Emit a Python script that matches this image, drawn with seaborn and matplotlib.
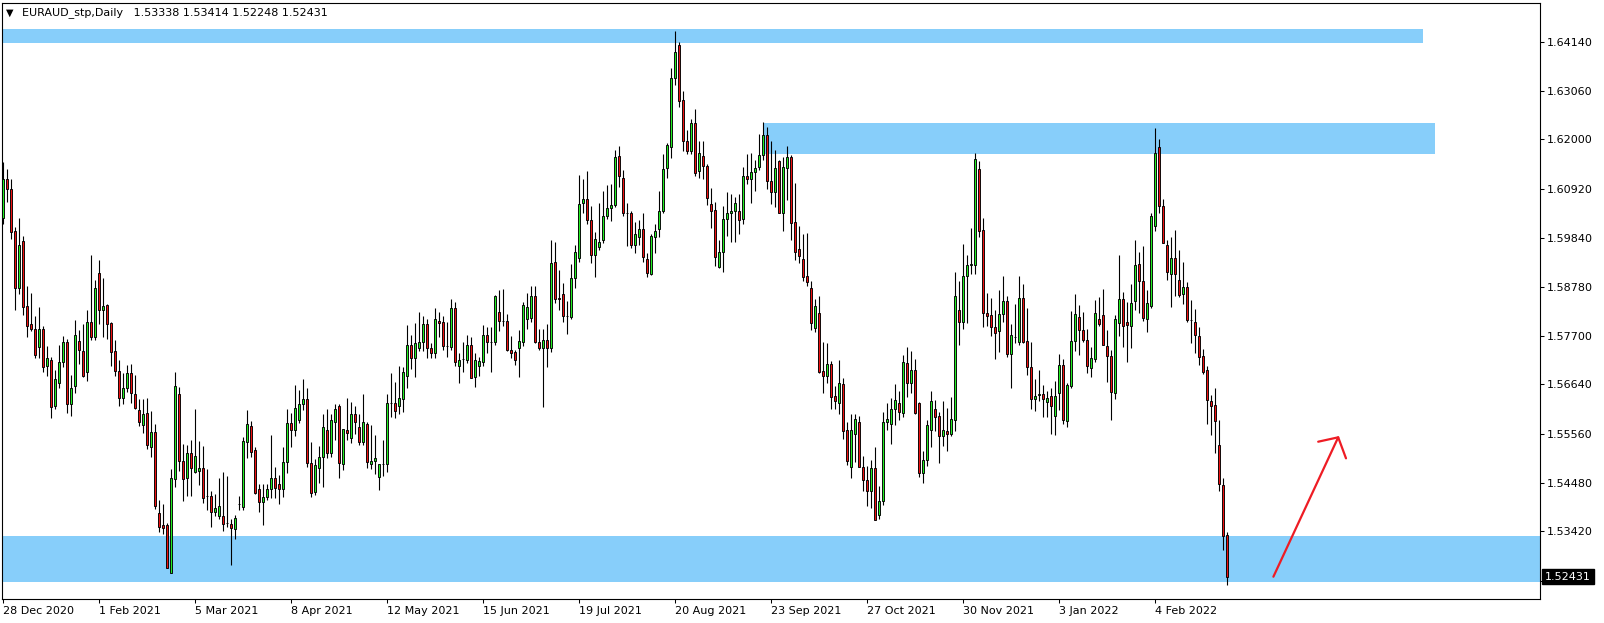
import numpy as np
import matplotlib
matplotlib.use("Agg")
import matplotlib.pyplot as plt
import matplotlib.transforms as mtransforms
import seaborn as sns

# EURAUD daily candles, 28 Dec 2020 .. Feb 2022
opens = [
    1.6029, 1.6113, 1.6091, 1.6000, 1.5875, 1.5978, 1.5835, 1.5796, 1.5786, 1.5746,
    1.5786, 1.5705, 1.5718, 1.5617, 1.5668, 1.5712, 1.5756, 1.5622, 1.5661, 1.5759,
    1.5737, 1.5690, 1.5800, 1.5767, 1.5907, 1.5827, 1.5837, 1.5799, 1.5737, 1.5693,
    1.5635, 1.5657, 1.5688, 1.5642, 1.5608, 1.5576, 1.5602, 1.5527, 1.5560, 1.5383,
    1.5356, 1.5356, 1.5252, 1.5456, 1.5642, 1.5496, 1.5458, 1.5513, 1.5472, 1.5475,
    1.5480, 1.5419, 1.5420, 1.5385, 1.5375, 1.5375, 1.5361, 1.5359, 1.5348, 1.5402,
    1.5396, 1.5538, 1.5573, 1.5520, 1.5434, 1.5406, 1.5418, 1.5434, 1.5458, 1.5445,
    1.5434, 1.5494, 1.5580, 1.5565, 1.5587, 1.5622, 1.5631, 1.5491, 1.5428, 1.5480,
    1.5505, 1.5564, 1.5514, 1.5582, 1.5616, 1.5489, 1.5564, 1.5546, 1.5598, 1.5570,
    1.5538, 1.5578, 1.5489, 1.5497, 1.5462, 1.5489, 1.5489, 1.5624, 1.5624, 1.5617,
    1.5631, 1.5682, 1.5751, 1.5721, 1.5743, 1.5756, 1.5797, 1.5743, 1.5732, 1.5802,
    1.5800, 1.5747, 1.5746, 1.5832, 1.5704, 1.5719, 1.5718, 1.5751, 1.5679, 1.5704,
    1.5712, 1.5773, 1.5757, 1.5756, 1.5823, 1.5803, 1.5802, 1.5739, 1.5734, 1.5743,
    1.5756, 1.5807, 1.5810, 1.5857, 1.5756, 1.5744, 1.5762, 1.5743, 1.5932, 1.5854,
    1.5861, 1.5813, 1.5812, 1.5897, 1.5940, 1.6060, 1.6069, 1.6024, 1.5947, 1.5964,
    1.5980, 1.6033, 1.6049, 1.6056, 1.6164, 1.6116, 1.6038, 1.6038, 1.5970, 1.5987,
    1.6004, 1.5938, 1.5905, 1.5986, 1.6004, 1.6044, 1.6137, 1.6184, 1.6334, 1.6407,
    1.6286, 1.6197, 1.6175, 1.6237, 1.6132, 1.6164, 1.6142, 1.6058, 1.6045, 1.5920,
    1.5953, 1.6025, 1.6040, 1.6043, 1.6043, 1.6025, 1.6120, 1.6113, 1.6128, 1.6140,
    1.6165, 1.6210, 1.6109, 1.6086, 1.6153, 1.6040, 1.6137, 1.6162, 1.6020, 1.5961,
    1.5938, 1.5901, 1.5875, 1.5788, 1.5821, 1.5693, 1.5682, 1.5708, 1.5638, 1.5624,
    1.5665, 1.5563, 1.5483, 1.5556, 1.5582, 1.5483, 1.5454, 1.5431, 1.5480, 1.5379,
    1.5408, 1.5582, 1.5578, 1.5609, 1.5624, 1.5602, 1.5710, 1.5666, 1.5695, 1.5624,
    1.5469, 1.5499, 1.5565, 1.5610, 1.5594, 1.5550, 1.5562, 1.5556, 1.5586, 1.5827,
    1.5801, 1.5901, 1.5925, 1.5926, 1.6135, 1.6002, 1.5821, 1.5815, 1.5790, 1.5780,
    1.5819, 1.5846, 1.5730, 1.5768, 1.5757, 1.5854, 1.5759, 1.5701, 1.5632, 1.5640,
    1.5642, 1.5626, 1.5638, 1.5595, 1.5645, 1.5706, 1.5584, 1.5660, 1.5759, 1.5811,
    1.5783, 1.5761, 1.5699, 1.5719, 1.5808, 1.5815, 1.5748, 1.5726, 1.5645, 1.5799,
    1.5851, 1.5800, 1.5792, 1.5847, 1.5928, 1.5891, 1.5808, 1.5836, 1.6011, 1.6183,
    1.6055, 1.5969, 1.5906, 1.5941, 1.5893, 1.5861, 1.5876, 1.5804, 1.5801, 1.5770,
    1.5726, 1.5696, 1.5627, 1.5619, 1.5531, 1.5444, 1.53338,
]
highs = [
    1.6151, 1.6135, 1.6113, 1.6009, 1.6029, 1.5989, 1.5879, 1.5865, 1.5813, 1.5833,
    1.5792, 1.5748, 1.5724, 1.5696, 1.5750, 1.5770, 1.5764, 1.5684, 1.5805, 1.5784,
    1.5795, 1.5827, 1.5947, 1.5892, 1.5936, 1.5896, 1.5840, 1.5801, 1.5762, 1.5717,
    1.5688, 1.5706, 1.5708, 1.5684, 1.5631, 1.5631, 1.5635, 1.5605, 1.5577, 1.5410,
    1.5401, 1.5360, 1.5478, 1.5690, 1.5659, 1.5534, 1.5532, 1.5542, 1.5610, 1.5540,
    1.5529, 1.5478, 1.5431, 1.5423, 1.5458, 1.5472, 1.5463, 1.5370, 1.5377, 1.5420,
    1.5548, 1.5608, 1.5584, 1.5527, 1.5445, 1.5445, 1.5445, 1.5553, 1.5482, 1.5465,
    1.5527, 1.5611, 1.5602, 1.5662, 1.5651, 1.5675, 1.5655, 1.5537, 1.5500, 1.5529,
    1.5600, 1.5610, 1.5600, 1.5622, 1.5622, 1.5567, 1.5635, 1.5626, 1.5616, 1.5600,
    1.5643, 1.5582, 1.5575, 1.5553, 1.5489, 1.5543, 1.5643, 1.5689, 1.5670, 1.5704,
    1.5703, 1.5794, 1.5772, 1.5799, 1.5823, 1.5813, 1.5808, 1.5754, 1.5832, 1.5823,
    1.5813, 1.5801, 1.5851, 1.5845, 1.5733, 1.5757, 1.5772, 1.5768, 1.5733, 1.5723,
    1.5794, 1.5790, 1.5790, 1.5859, 1.5870, 1.5873, 1.5819, 1.5770, 1.5740, 1.5784,
    1.5845, 1.5863, 1.5879, 1.5879, 1.5786, 1.5786, 1.5797, 1.5980, 1.5975, 1.5914,
    1.5885, 1.5846, 1.5927, 1.5969, 1.6122, 1.6113, 1.6131, 1.6054, 1.5997, 1.6060,
    1.6087, 1.6100, 1.6102, 1.6177, 1.6185, 1.6133, 1.6062, 1.6043, 1.6020, 1.6024,
    1.6040, 1.5951, 1.5994, 1.6015, 1.6088, 1.6168, 1.6193, 1.6356, 1.6437, 1.6414,
    1.6305, 1.6221, 1.6245, 1.6266, 1.6196, 1.6197, 1.6146, 1.6093, 1.6063, 1.5980,
    1.6054, 1.6084, 1.6080, 1.6075, 1.6080, 1.6140, 1.6169, 1.6170, 1.6155, 1.6213,
    1.6238, 1.6228, 1.6197, 1.6177, 1.6156, 1.6162, 1.6185, 1.6167, 1.6104, 1.6010,
    1.5994, 1.5996, 1.5891, 1.5850, 1.5857, 1.5757, 1.5755, 1.5716, 1.5661, 1.5718,
    1.5677, 1.5582, 1.5600, 1.5600, 1.5594, 1.5507, 1.5485, 1.5499, 1.5527, 1.5441,
    1.5604, 1.5624, 1.5633, 1.5665, 1.5649, 1.5729, 1.5745, 1.5737, 1.5719, 1.5626,
    1.5518, 1.5586, 1.5650, 1.5629, 1.5604, 1.5628, 1.5613, 1.5636, 1.5910, 1.5890,
    1.5971, 1.5946, 1.6007, 1.6171, 1.6153, 1.6029, 1.5865, 1.5854, 1.5826, 1.5870,
    1.5902, 1.5858, 1.5797, 1.5840, 1.5901, 1.5883, 1.5830, 1.5757, 1.5675, 1.5696,
    1.5662, 1.5650, 1.5655, 1.5672, 1.5730, 1.5719, 1.5666, 1.5825, 1.5861, 1.5837,
    1.5822, 1.5785, 1.5745, 1.5848, 1.5856, 1.5873, 1.5782, 1.5740, 1.5815, 1.5947,
    1.5867, 1.5845, 1.5883, 1.5979, 1.5953, 1.5967, 1.5870, 1.6040, 1.6225, 1.6200,
    1.6069, 1.5979, 1.5987, 1.6002, 1.5959, 1.5932, 1.5887, 1.5848, 1.5829, 1.5790,
    1.5741, 1.5705, 1.5641, 1.5656, 1.5586, 1.5458, 1.53414,
]
lows = [
    1.6016, 1.6064, 1.5983, 1.5827, 1.5861, 1.5815, 1.5768, 1.5781, 1.5721, 1.5722,
    1.5691, 1.5683, 1.5591, 1.5609, 1.5657, 1.5702, 1.5601, 1.5595, 1.5646, 1.5708,
    1.5680, 1.5672, 1.5761, 1.5761, 1.5797, 1.5768, 1.5764, 1.5705, 1.5682, 1.5616,
    1.5621, 1.5648, 1.5624, 1.5609, 1.5573, 1.5558, 1.5522, 1.5505, 1.5392, 1.5341,
    1.5337, 1.5261, 1.5250, 1.5440, 1.5475, 1.5409, 1.5420, 1.5420, 1.5469, 1.5443,
    1.5405, 1.5389, 1.5352, 1.5375, 1.5370, 1.5343, 1.5352, 1.5268, 1.5326, 1.5389,
    1.5390, 1.5503, 1.5505, 1.5423, 1.5385, 1.5356, 1.5410, 1.5416, 1.5416, 1.5403,
    1.5418, 1.5470, 1.5527, 1.5551, 1.5580, 1.5608, 1.5483, 1.5417, 1.5422, 1.5447,
    1.5440, 1.5502, 1.5504, 1.5542, 1.5459, 1.5476, 1.5542, 1.5536, 1.5556, 1.5531,
    1.5531, 1.5480, 1.5478, 1.5467, 1.5432, 1.5463, 1.5472, 1.5593, 1.5591, 1.5600,
    1.5604, 1.5655, 1.5697, 1.5681, 1.5737, 1.5737, 1.5722, 1.5722, 1.5722, 1.5768,
    1.5740, 1.5724, 1.5739, 1.5705, 1.5666, 1.5690, 1.5711, 1.5677, 1.5659, 1.5683,
    1.5705, 1.5732, 1.5690, 1.5750, 1.5781, 1.5792, 1.5737, 1.5721, 1.5706, 1.5679,
    1.5748, 1.5786, 1.5801, 1.5755, 1.5739, 1.5615, 1.5702, 1.5734, 1.5843, 1.5826,
    1.5801, 1.5775, 1.5807, 1.5874, 1.5931, 1.6040, 1.6016, 1.5930, 1.5900, 1.5958,
    1.5974, 1.6026, 1.6022, 1.6053, 1.6097, 1.6032, 1.5967, 1.5963, 1.5952, 1.5970,
    1.5931, 1.5900, 1.5903, 1.5951, 1.5986, 1.6038, 1.6116, 1.6159, 1.6319, 1.6272,
    1.6175, 1.6169, 1.6168, 1.6121, 1.6115, 1.6113, 1.6056, 1.6007, 1.5924, 1.5918,
    1.5909, 1.5989, 1.5976, 1.5975, 1.5992, 1.6014, 1.6103, 1.6060, 1.6088, 1.6133,
    1.6155, 1.6091, 1.6058, 1.6053, 1.6038, 1.6000, 1.6067, 1.5980, 1.5936, 1.5930,
    1.5890, 1.5880, 1.5784, 1.5779, 1.5688, 1.5644, 1.5667, 1.5611, 1.5609, 1.5598,
    1.5544, 1.5487, 1.5458, 1.5494, 1.5482, 1.5431, 1.5398, 1.5394, 1.5367, 1.5369,
    1.5399, 1.5565, 1.5534, 1.5576, 1.5587, 1.5593, 1.5637, 1.5645, 1.5599, 1.5462,
    1.5447, 1.5485, 1.5527, 1.5562, 1.5491, 1.5528, 1.5519, 1.5550, 1.5562, 1.5750,
    1.5785, 1.5799, 1.5905, 1.5905, 1.5987, 1.5790, 1.5792, 1.5770, 1.5719, 1.5735,
    1.5801, 1.5724, 1.5656, 1.5755, 1.5750, 1.5754, 1.5684, 1.5610, 1.5606, 1.5628,
    1.5593, 1.5593, 1.5556, 1.5553, 1.5607, 1.5577, 1.5571, 1.5657, 1.5738, 1.5728,
    1.5757, 1.5689, 1.5680, 1.5713, 1.5792, 1.5751, 1.5670, 1.5587, 1.5631, 1.5770,
    1.5746, 1.5713, 1.5743, 1.5826, 1.5821, 1.5803, 1.5778, 1.5830, 1.6000, 1.6038,
    1.5973, 1.5893, 1.5834, 1.5858, 1.5855, 1.5840, 1.5801, 1.5755, 1.5732, 1.5706,
    1.5687, 1.5578, 1.5553, 1.5514, 1.5431, 1.5301, 1.52248,
]
closes = [
    1.6113, 1.6091, 1.5997, 1.5875, 1.5970, 1.5834, 1.5792, 1.5786, 1.5729, 1.5786,
    1.5701, 1.5721, 1.5615, 1.5675, 1.5712, 1.5756, 1.5622, 1.5657, 1.5773, 1.5739,
    1.5683, 1.5800, 1.5768, 1.5875, 1.5827, 1.5835, 1.5795, 1.5735, 1.5694, 1.5634,
    1.5657, 1.5688, 1.5644, 1.5613, 1.5582, 1.5600, 1.5532, 1.5560, 1.5398, 1.5352,
    1.5350, 1.5263, 1.5458, 1.5661, 1.5496, 1.5456, 1.5514, 1.5481, 1.5507, 1.5480,
    1.5416, 1.5419, 1.5385, 1.5394, 1.5397, 1.5359, 1.5361, 1.5350, 1.5372, 1.5403,
    1.5540, 1.5578, 1.5516, 1.5427, 1.5406, 1.5418, 1.5434, 1.5458, 1.5438, 1.5434,
    1.5494, 1.5580, 1.5565, 1.5613, 1.5622, 1.5631, 1.5491, 1.5426, 1.5487, 1.5504,
    1.5570, 1.5514, 1.5586, 1.5611, 1.5491, 1.5566, 1.5558, 1.5598, 1.5582, 1.5538,
    1.5581, 1.5494, 1.5497, 1.5502, 1.5489, 1.5489, 1.5624, 1.5624, 1.5605, 1.5633,
    1.5690, 1.5751, 1.5721, 1.5754, 1.5756, 1.5797, 1.5743, 1.5732, 1.5806, 1.5799,
    1.5748, 1.5747, 1.5830, 1.5712, 1.5717, 1.5719, 1.5751, 1.5677, 1.5717, 1.5715,
    1.5773, 1.5756, 1.5757, 1.5857, 1.5803, 1.5803, 1.5739, 1.5732, 1.5717, 1.5759,
    1.5837, 1.5834, 1.5857, 1.5757, 1.5744, 1.5762, 1.5743, 1.5929, 1.5850, 1.5851,
    1.5813, 1.5813, 1.5897, 1.5954, 1.6058, 1.6069, 1.6024, 1.5947, 1.5983, 1.5976,
    1.6033, 1.6049, 1.6056, 1.6161, 1.6120, 1.6038, 1.6038, 1.5970, 1.5992, 1.6003,
    1.5942, 1.5908, 1.5989, 1.6000, 1.6044, 1.6135, 1.6188, 1.6334, 1.6391, 1.6285,
    1.6197, 1.6175, 1.6237, 1.6127, 1.6170, 1.6142, 1.6071, 1.6044, 1.5942, 1.5953,
    1.6025, 1.6038, 1.6043, 1.6062, 1.6024, 1.6120, 1.6113, 1.6128, 1.6137, 1.6167,
    1.6210, 1.6110, 1.6086, 1.6137, 1.6040, 1.6140, 1.6162, 1.6018, 1.5954, 1.5945,
    1.5900, 1.5888, 1.5799, 1.5835, 1.5690, 1.5682, 1.5708, 1.5637, 1.5628, 1.5667,
    1.5562, 1.5496, 1.5565, 1.5588, 1.5483, 1.5454, 1.5431, 1.5480, 1.5368, 1.5408,
    1.5582, 1.5588, 1.5611, 1.5629, 1.5604, 1.5712, 1.5666, 1.5695, 1.5602, 1.5469,
    1.5499, 1.5576, 1.5627, 1.5593, 1.5550, 1.5564, 1.5556, 1.5588, 1.5857, 1.5801,
    1.5901, 1.5926, 1.5928, 1.6157, 1.6000, 1.5821, 1.5814, 1.5789, 1.5777, 1.5819,
    1.5846, 1.5730, 1.5772, 1.5768, 1.5854, 1.5757, 1.5701, 1.5632, 1.5638, 1.5642,
    1.5632, 1.5635, 1.5617, 1.5638, 1.5706, 1.5587, 1.5662, 1.5759, 1.5817, 1.5784,
    1.5761, 1.5705, 1.5721, 1.5821, 1.5796, 1.5751, 1.5726, 1.5648, 1.5808, 1.5851,
    1.5792, 1.5794, 1.5843, 1.5926, 1.5891, 1.5810, 1.5841, 1.6033, 1.6170, 1.6055,
    1.5973, 1.5910, 1.5941, 1.5906, 1.5860, 1.5876, 1.5805, 1.5804, 1.5773, 1.5724,
    1.5692, 1.5629, 1.5617, 1.5584, 1.5445, 1.5333, 1.52431,
]

# date labels every 24 bars
date_pos = [0, 24, 48, 72, 96, 120, 144, 168, 192, 216, 240, 264, 288]
date_labels = ["28 Dec 2020", "1 Feb 2021", "5 Mar 2021", "8 Apr 2021", "12 May 2021",
               "15 Jun 2021", "19 Jul 2021", "20 Aug 2021", "23 Sep 2021", "27 Oct 2021",
               "30 Nov 2021", "3 Jan 2022", "4 Feb 2022"]
price_ticks = [1.64140, 1.63060, 1.62000, 1.60920, 1.59840, 1.58780, 1.57700,
               1.56640, 1.55560, 1.54480, 1.53420, 1.52340]

# supply / demand zones: start bar, end bar, low, high
zone_start = [-5, 190, -5]
zone_end = [355, 358, 400]
zone_low = [1.64118, 1.61682, 1.52319]
zone_high = [1.64418, 1.62354, 1.53320]

# hand-drawn arrow (bar index, price)
arrow_shaft_x = [317.6, 333.8]
arrow_shaft_y = [1.52429, 1.55480]
arrow_head_x = [328.8, 333.8, 335.75]
arrow_head_y = [1.55384, 1.55480, 1.55020]

sns.set_theme(style="white")
plt.rcParams['font.family'] = ['DejaVu Sans']

W, H = 1604, 623
fig = plt.figure(figsize=(W / 100, H / 100), dpi=100)
ax = fig.add_axes([2 / W, (H - 599) / H, (1540 - 2) / W, (599 - 3) / H])

o = np.array(opens)
h = np.array(highs)
l = np.array(lows)
c = np.array(closes)
x = np.arange(len(o))
up = c >= o

for xs, xe, lo, hi in zip(zone_start, zone_end, zone_low, zone_high):
    ax.fill_between([xs, xe], lo, hi, color="#87cefa", lw=0, zorder=1)

ax.vlines(x, l, h, color="black", lw=0.8, zorder=3)
ax.bar(x[up], (c - o)[up], bottom=o[up], width=0.55, color="#22ee22",
       edgecolor="black", linewidth=0.65, zorder=4)
ax.bar(x[~up], (o - c)[~up], bottom=c[~up], width=0.55, color="#ee1111",
       edgecolor="black", linewidth=0.65, zorder=4)

ax.plot(arrow_shaft_x, arrow_shaft_y, color="#ee1c24", lw=1.6, zorder=5,
        solid_capstyle="round")
ax.plot(arrow_head_x, arrow_head_y, color="#ee1c24", lw=1.6, zorder=5,
        solid_capstyle="round", solid_joinstyle="round")

ax.set_xlim(-0.25, 384.25)
ax.set_ylim(1.51941, 1.64987)

# the lowest scale label sits under the last-price marker, as in the terminal
ax.set_yticks(price_ticks)
ax.set_yticklabels(["%.5f" % t if t > closes[-1] + 0.002 else "" for t in price_ticks])
ax.yaxis.tick_right()
ax.tick_params(axis="y", which="both", direction="out", length=3, width=0.75,
               pad=2, labelsize=8, colors="black", right=True, left=False)

ax.set_xticks(date_pos)
ax.set_xticklabels(date_labels, ha="left")
ax.tick_params(axis="x", which="both", direction="out", length=3, width=0.75,
               pad=2, labelsize=8, colors="black", bottom=True)

for sp in ax.spines.values():
    sp.set_visible(True)
    sp.set_color("black")
    sp.set_linewidth(0.8)

# last price marker on the price scale
trans = mtransforms.blended_transform_factory(ax.transAxes, ax.transData)
ax.text(1.0 + 5 / (1540 - 2), closes[-1], "%.5f" % closes[-1], transform=trans,
        ha="left", va="center", fontsize=8, color="white", zorder=10,
        bbox=dict(boxstyle="square,pad=0.25", fc="black", ec="black"))

# header
fig.text(9.5 / W, 1 - 12.5 / H, "\u25bc", fontsize=7, ha="center", va="center",
         color="black")
fig.text(21.7 / W, 1 - 13 / H,
         "EURAUD_stp,Daily   %.5f %.5f %.5f %.5f" % (opens[-1], highs[-1], lows[-1], closes[-1]),
         fontsize=8, ha="left", va="center", color="black")

fig.savefig("out.png", dpi=100, facecolor="white")
